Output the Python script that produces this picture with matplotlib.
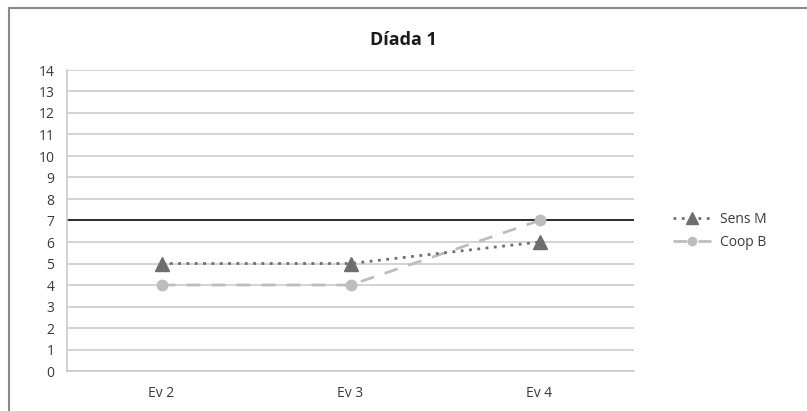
import matplotlib
matplotlib.use("Agg")
import matplotlib.pyplot as plt
from matplotlib.lines import Line2D

categories = ["Ev 2", "Ev 3", "Ev 4"]
sens_m = [5, 5, 6]
coop_b = [4, 4, 7]
y_ticks = list(range(0, 15))
reference_level = 7

plt.rcParams["font.family"] = ["Open Sans", "DejaVu Sans"]

fig = plt.figure(figsize=(8.07, 4.11), dpi=100)
ax = fig.add_axes([67 / 807, 1 - 371 / 411, (634 - 67) / 807, (371 - 70) / 411])

# outer chart frame (left and top edges visible)
fig.add_artist(Line2D([9 / 807, 9 / 807], [0, 1 - 8 / 411], transform=fig.transFigure,
                      color="#8a8a8a", lw=1.5))
fig.add_artist(Line2D([9 / 807, 1], [1 - 8 / 411, 1 - 8 / 411], transform=fig.transFigure,
                      color="#8a8a8a", lw=1.5))

x = list(range(len(categories)))
ax.set_xlim(-0.5, len(categories) - 0.5)
ax.set_ylim(0, 14)
ax.set_yticks(y_ticks)
ax.set_xticks(x)
ax.set_xticklabels(categories)

ax.grid(axis="y", color="#c8c8c8", lw=1.1)
ax.set_axisbelow(True)
for s in ["top", "right"]:
    ax.spines[s].set_visible(False)
ax.spines["left"].set_color("#c8c8c8")
ax.spines["bottom"].set_color("#c8c8c8")
ax.spines["left"].set_linewidth(1.1)
ax.spines["bottom"].set_linewidth(1.1)
ax.tick_params(axis="both", length=0, labelsize=10, colors="#3a3a3a")
ax.tick_params(axis="x", pad=11)
ax.tick_params(axis="y", pad=9)

ax.axhline(reference_level, color="black", lw=1.1, zorder=2)

ax.plot(x, sens_m, linestyle=(0, (1, 2)), color="#6e6e6e", lw=2,
        marker="^", markersize=10, markerfacecolor="#6e6e6e", markeredgecolor="#6e6e6e",
        label="Sens M", zorder=4)
ax.plot(x, coop_b, linestyle=(0, (5, 4)), color="#bdbdbd", lw=2,
        marker="o", markersize=7.5, markerfacecolor="#bdbdbd", markeredgecolor="#bdbdbd",
        label="Coop B", zorder=3)

fig.text(403 / 807, 1 - 40 / 411, "Díada 1", ha="center", va="center",
         fontsize=13, fontweight="bold", color="#1a1a1a")

leg = ax.legend(loc="center left", bbox_to_anchor=(660 / 807, 1 - 231 / 411),
                bbox_transform=fig.transFigure, frameon=False, fontsize=10,
                handlelength=2.8, labelspacing=0.55, handletextpad=0.6, markerscale=0.8)
for t in leg.get_texts():
    t.set_color("#3a3a3a")

fig.savefig("out.png", dpi=100)
